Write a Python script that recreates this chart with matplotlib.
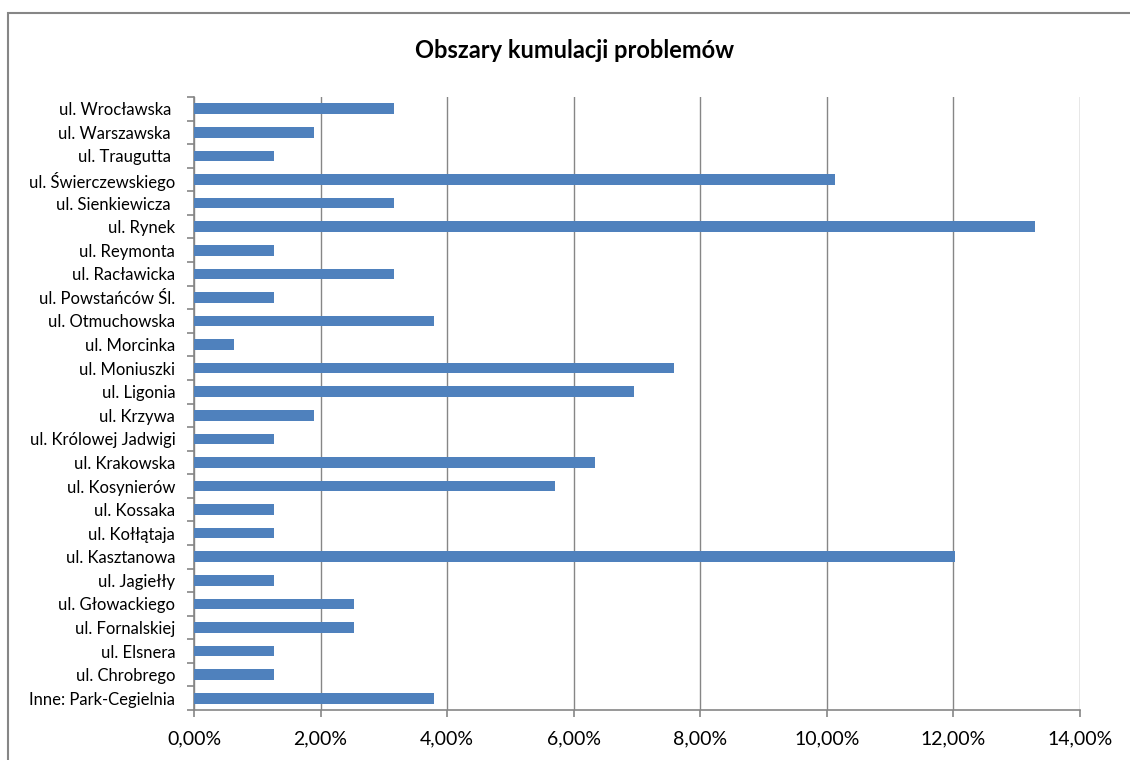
import numpy as np
import matplotlib.pyplot as plt
from matplotlib.patches import Rectangle
from matplotlib.ticker import FuncFormatter

plt.rcParams['font.family'] = ['Lato', 'DejaVu Sans']

# kategorie od dołu do góry
streets = ["Inne: Park-Cegielnia", "ul. Chrobrego", "ul. Elsnera", "ul. Fornalskiej",
           "ul. Głowackiego", "ul. Jagiełły", "ul. Kasztanowa", "ul. Kołłątaja",
           "ul. Kossaka", "ul. Kosynierów", "ul. Krakowska", "ul. Królowej Jadwigi",
           "ul. Krzywa", "ul. Ligonia", "ul. Moniuszki", "ul. Morcinka",
           "ul. Otmuchowska", "ul. Powstańców Śl.", "ul. Racławicka", "ul. Reymonta",
           "ul. Rynek", "ul. Sienkiewicza ", "ul. Świerczewskiego", "ul. Traugutta ",
           "ul. Warszawska ", "ul. Wrocławska "]
shares = [3.80, 1.27, 1.27, 2.53, 2.53, 1.27, 12.03, 1.27, 1.27, 5.70, 6.33, 1.27,
          1.90, 6.96, 7.59, 0.63, 3.80, 1.27, 3.16, 1.27, 13.29, 3.16, 10.13, 1.27,
          1.90, 3.16]
x_ticks = [0, 2, 4, 6, 8, 10, 12, 14]

grey = "#868686"

fig = plt.figure(figsize=(11.3, 7.6), dpi=100)
ax = fig.add_axes([194 / 1130, 1 - 710 / 760, 886 / 1130, 613 / 760])

# ramka wykresu
fig.patches.append(Rectangle((8 / 1130, -0.1), 1.2, 1 - 13 / 760 + 0.1,
                             transform=fig.transFigure, fill=False,
                             edgecolor=grey, lw=1.5))

y = np.arange(len(streets))
ax.barh(y, shares, height=0.45, color="#4F81BD", zorder=3)

ax.set_xlim(0, 14)
ax.set_ylim(-0.5, len(streets) - 0.5)
ax.set_xticks(x_ticks)
ax.xaxis.set_major_formatter(FuncFormatter(lambda v, p: f"{v:.2f}%".replace(".", ",")))
ax.set_yticks(y)
ax.set_yticklabels(streets)
ax.set_yticks(np.arange(len(streets) + 1) - 0.5, minor=True)

ax.grid(axis="x", color=grey, lw=1, zorder=0)
for s in ["top", "right"]:
    ax.spines[s].set_visible(False)
for s in ["left", "bottom"]:
    ax.spines[s].set_color(grey)
    ax.spines[s].set_linewidth(1.2)

ax.tick_params(axis="y", which="major", length=0, labelsize=12, pad=13.5)
ax.tick_params(axis="y", which="minor", length=5, color=grey, width=1.2)
ax.tick_params(axis="x", length=5, color=grey, width=1.2, labelsize=14, pad=10)

fig.text(575 / 1130, 1 - 50 / 760, "Obszary kumulacji problemów",
         ha="center", va="center", fontsize=17, fontweight="bold")

fig.savefig("out.png", dpi=100)
